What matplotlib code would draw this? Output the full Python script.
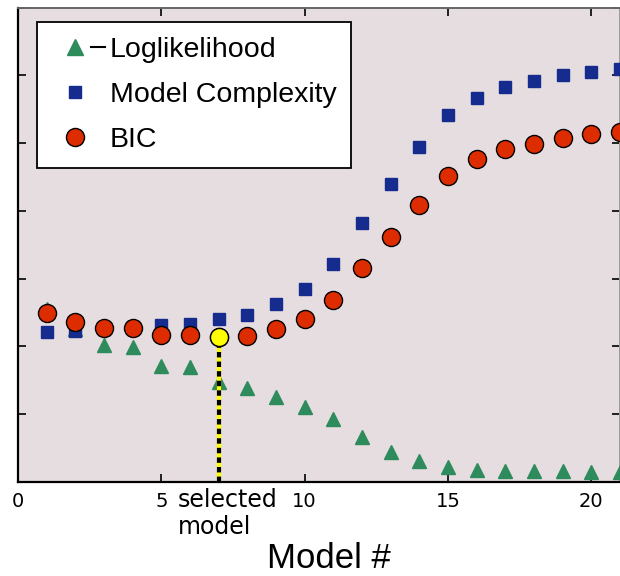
import matplotlib
matplotlib.use("Agg")
import matplotlib.pyplot as plt
from matplotlib.lines import Line2D
from matplotlib.legend_handler import HandlerBase

# ---- data ----
models = list(range(1, 22))
neg_loglik = [2.55, 2.25, 2.02, 1.99, 1.71, 1.69, 1.47, 1.39, 1.25, 1.11, 0.93,
              0.66, 0.44, 0.31, 0.22, 0.18, 0.16, 0.16, 0.16, 0.15, 0.15]
complexity = [2.21, 2.23, 2.26, 2.28, 2.31, 2.33, 2.40, 2.46, 2.62, 2.84, 3.21,
              3.82, 4.39, 4.94, 5.41, 5.67, 5.82, 5.91, 6.00, 6.05, 6.09]
bic = [2.49, 2.36, 2.27, 2.27, 2.17, 2.17, 2.14, 2.15, 2.25, 2.40, 2.68,
       3.15, 3.61, 4.08, 4.51, 4.76, 4.91, 4.98, 5.08, 5.14, 5.17]
selected = 7
xticks = [0, 5, 10, 15, 20]
yticks = [0, 1, 2, 3, 4, 5, 6, 7]
labels = ["Loglikelihood", "Model Complexity", "BIC"]

GREEN = "#2e8b5c"
BLUE = "#152b8e"
RED = "#dd2c00"
BG = "#e6dde0"

W, H = 620, 576
fig = plt.figure(figsize=(W / 100, H / 100), dpi=100)
ax = fig.add_axes([18 / W, 94 / H, (W - 18) / W, (482 - 7.5) / H])
ax.set_facecolor(BG)

ax.plot(models, neg_loglik, linestyle="none", marker="^", markersize=10.5,
        color=GREEN, markeredgecolor=GREEN, zorder=3)
ax.plot(models, complexity, linestyle="none", marker="s", markersize=8,
        color=BLUE, markeredgecolor=BLUE, zorder=4)
ax.plot(models, bic, linestyle="none", marker="o", markersize=13,
        markerfacecolor=RED, markeredgecolor="black", markeredgewidth=1.0, zorder=5)

sel_val = bic[models.index(selected)]
ax.plot([selected, selected], [0, sel_val], color="#ffff00", lw=3, zorder=6,
        solid_capstyle="butt")
ax.plot([selected, selected], [0, sel_val], color="black", lw=3, zorder=6,
        dashes=(1.3, 1.0), dash_capstyle="butt")
ax.plot([selected], [sel_val], linestyle="none", marker="o", markersize=13,
        markerfacecolor="#ffff00", markeredgecolor="black", markeredgewidth=1.0, zorder=7)

ax.set_xlim(0, 21)
ax.set_ylim(0, 7)
ax.set_xticks(xticks)
ax.set_xticklabels([str(t) for t in xticks], fontsize=14, family="DejaVu Sans")
ax.set_yticks(yticks)
ax.set_yticklabels([])
ax.tick_params(axis="both", direction="in", length=6, width=1.2, top=True, right=True,
               colors="black")
ax.tick_params(axis="x", pad=7)
for t in ax.yaxis.get_major_ticks():
    t.tick2line.set_color("#888888")

for side in ["left", "bottom"]:
    ax.spines[side].set_linewidth(1.6)
    ax.spines[side].set_color("black")
ax.spines["top"].set_color("#666666")
ax.spines["top"].set_linewidth(1.4)
ax.spines["right"].set_color("#999999")
ax.spines["right"].set_linewidth(1.4)

ax.annotate("selected\nmodel", xy=(selected, 0), xycoords=("data", "axes fraction"),
            xytext=(6.5, -4), textcoords="offset points", ha="center", va="top",
            multialignment="left", fontsize=17, family="DejaVu Sans")

fig.text(329 / W, 0.5 / H, "Model #", ha="center", va="bottom", fontsize=25,
         family="Liberation Sans")


class TriDashHandler(HandlerBase):
    def create_artists(self, legend, orig_handle, xdescent, ydescent, width, height,
                       fontsize, trans):
        cx = width / 2 - xdescent
        cy = height / 2 - ydescent
        m = Line2D([cx], [cy], linestyle="none", marker="^", markersize=11,
                   color=GREEN, transform=trans)
        d = Line2D([cx + 11.5, cx + 21.5], [cy, cy], color="black", lw=1.5,
                   transform=trans)
        return [m, d]


h1 = Line2D([], [], linestyle="none", marker="^", color=GREEN)
h2 = Line2D([], [], linestyle="none", marker="s", markersize=8, color=BLUE)
h3 = Line2D([], [], linestyle="none", marker="o", markersize=13,
            markerfacecolor=RED, markeredgecolor="black")
leg = ax.legend([h1, h2, h3], labels, handler_map={h1: TriDashHandler()},
                loc="upper left", bbox_to_anchor=(37 / W, 1 - 22 / H),
                bbox_transform=fig.transFigure, borderaxespad=0,
                prop={"family": "Liberation Sans", "size": 20.5},
                handlelength=1.6, handletextpad=0.42, borderpad=0.53,
                labelspacing=0.67, fancybox=False, framealpha=1,
                edgecolor="black", facecolor="white")
leg.get_frame().set_linewidth(1.3)
leg.set_zorder(10)

fig.savefig("out.png", dpi=100)
